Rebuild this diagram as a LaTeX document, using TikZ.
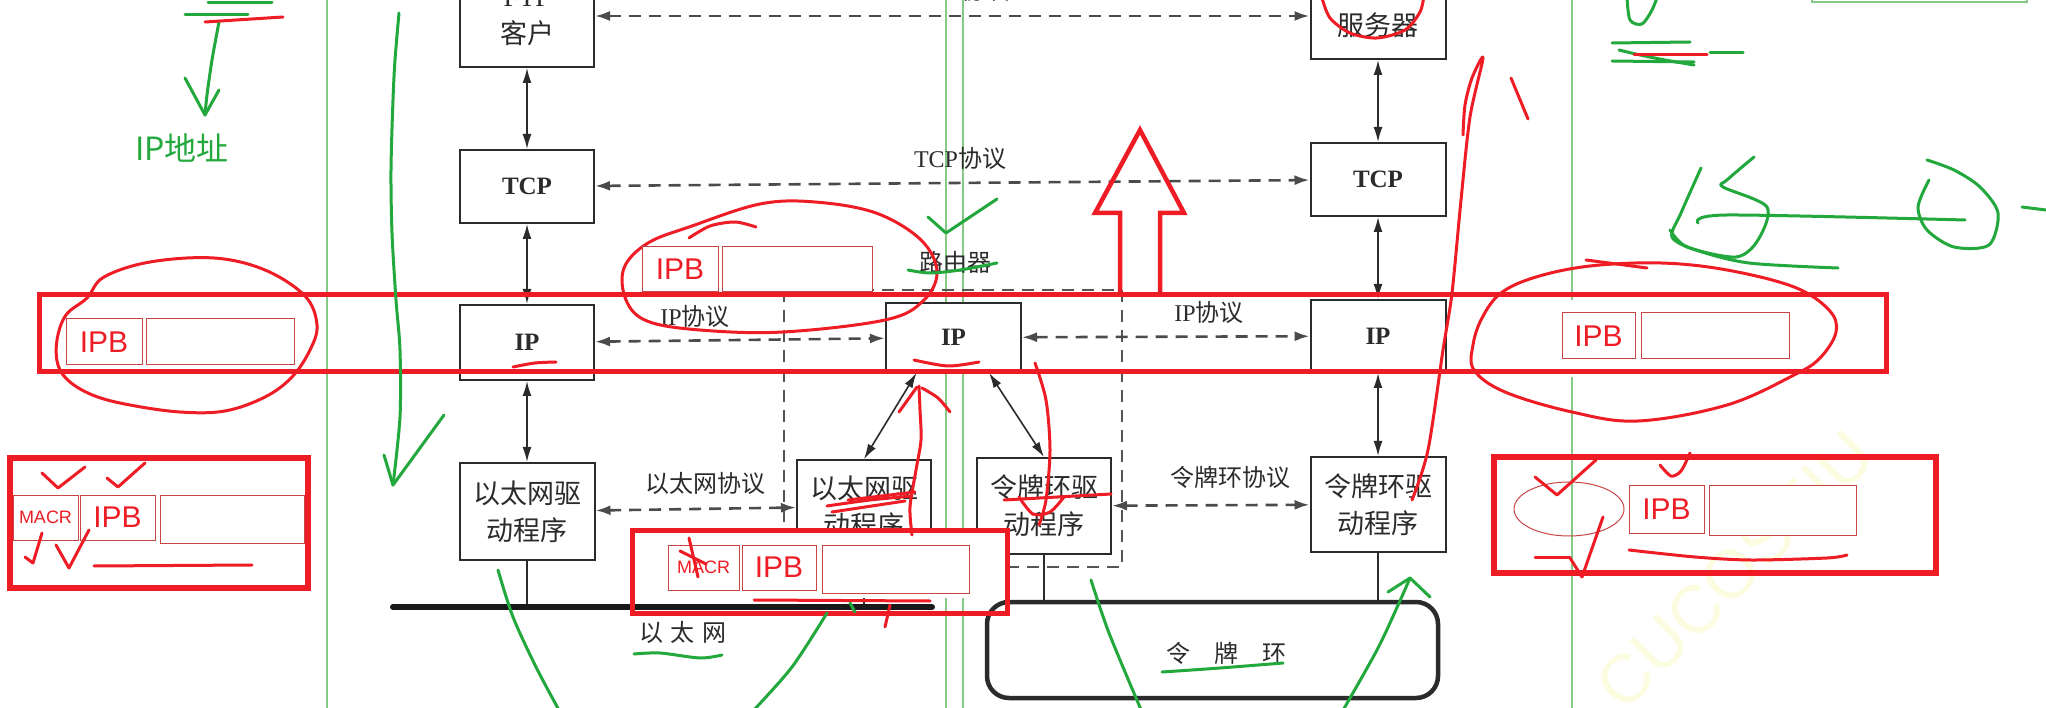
\documentclass[tikz,border=0pt]{standalone}
\usepackage{fontspec}
\setmainfont{Liberation Serif}
\newfontfamily\cjk{Noto Sans CJK SC}
\newfontfamily\asans{Liberation Sans}
\usetikzlibrary{arrows.meta,calc}
\newcommand{\zh}[1]{{\cjk #1}}
\definecolor{annred}{HTML}{EE1C25}
\definecolor{boxred}{HTML}{C94545}
\definecolor{anngreen}{HTML}{22A83C}
\definecolor{guidegreen}{HTML}{86C986}
\definecolor{ink}{HTML}{2B2B2B}
\definecolor{wmark}{HTML}{FCFCE0}
\begin{document}
\begin{tikzpicture}[x=1pt,y=-1pt,
  stack/.style={draw=ink, line width=2pt, fill=white, inner sep=0pt, align=center, text=ink, font=\fontsize{27}{37}\selectfont, minimum width=134pt},
  boldlbl/.style={font=\bfseries\fontsize{25}{28}\selectfont},
  biarrow/.style={{Latex[length=15pt,width=9pt]}-{Latex[length=15pt,width=9pt]}, line width=1.6pt, draw=ink},
  dasharrow/.style={{Latex[length=15pt,width=10pt]}-{Latex[length=15pt,width=10pt]}, line width=2.6pt, draw=ink!85, dash pattern=on 12pt off 8pt},
  plbl/.style={text=ink, font=\fontsize{24}{28}\selectfont, inner sep=0pt},
  wire/.style={draw=ink, line width=1.6pt},
  guide/.style={draw=guidegreen, line width=1.2pt},
  redbox/.style={draw=annred, line width=5pt},
  rhand/.style={draw=annred, line width=3pt, line cap=round, line join=round},
  ghand/.style={draw=anngreen, line width=3pt, line cap=round, line join=round},
  ipbbox/.style={draw=boxred, line width=1pt, fill=white, text=annred, inner sep=0pt, font=\asans\fontsize{30}{30}\selectfont},
  macrbox/.style={draw=boxred, line width=1pt, fill=white, text=annred, inner sep=0pt, font=\asans\fontsize{18}{18}\selectfont},
  emptybox/.style={draw=boxred, line width=1pt, fill=white, inner sep=0pt},
]
\useasboundingbox (0,0) rectangle (2046,708);
\clip (0,0) rectangle (2046,708);
\fill[white] (0,0) rectangle (2046,708);

% watermark
\node[rotate=45, text=wmark, font=\asans\fontsize{68}{68}\selectfont] (wm) at (1735,570) {CUCOSEIU};

% green guide lines
\draw[guide] (327,0) -- (327,708);
\draw[guide] (946,0) -- (946,708);
\draw[guide] (963,0) -- (963,708);
\draw[guide] (1572,0) -- (1572,300);
\draw[guide] (1572,377) -- (1572,708);
\draw[guide] (1812,-5) rectangle (2027,2);

% router dashed frame
\draw[ink!80, line width=2pt, dash pattern=on 12pt off 8pt] (784,290) rectangle (1122,567);

% protocol stacks
\node[stack, minimum height=100pt] (ftpC) at (527,17) {FTP\\\zh{客户}};
\node[stack, minimum height=100pt, minimum width=135pt] (ftpS) at (1378,9) {FTP\\\zh{服务器}};
\node[stack, boldlbl, minimum height=73pt] (tcpL) at (527,186.5) {TCP};
\node[stack, boldlbl, minimum height=73pt, minimum width=135pt] (tcpR) at (1378,179.5) {TCP};
\node[stack, boldlbl, minimum height=75pt] (ipL) at (527,342.5) {IP};
\node[stack, boldlbl, minimum height=69pt, minimum width=135pt] (ipM) at (953.5,337.5) {IP};
\node[stack, boldlbl, minimum height=72pt, minimum width=135pt] (ipR) at (1378,336) {IP};
\node[stack, minimum height=97pt, minimum width=135pt] (ethL) at (527,511.5) {\zh{以太网驱}\\\zh{动程序}};
\node[stack, minimum height=93pt] (ethM) at (864,506.5) {\zh{以太网驱}\\\zh{动程序}};
\node[stack, minimum height=96pt] (tokM) at (1044,506) {\zh{令牌环驱}\\\zh{动程序}};
\node[stack, minimum height=95pt, minimum width=135pt] (tokR) at (1378,504.5) {\zh{令牌环驱}\\\zh{动程序}};

% vertical arrows
\draw[biarrow] (ftpC) -- (tcpL);
\draw[biarrow] (tcpL) -- (ipL);
\draw[biarrow] (ipL) -- (ethL);
\draw[biarrow] (ftpS) -- (tcpR);
\draw[biarrow] (tcpR) -- (ipR);
\draw[biarrow] (ipR) -- (tokR);
\draw[biarrow] ($(ipM.south west)!0.23!(ipM.south east)$) -- (ethM.north);
\draw[biarrow] ($(ipM.south west)!0.76!(ipM.south east)$) -- (tokM.north);

% peer protocol arrows
\coordinate (fy) at (0,16);
\draw[dasharrow] (ftpC.east |- fy) -- (ftpS.west |- fy);
\draw[dasharrow] (tcpL) -- (tcpR);
\draw[dasharrow] (ipL) -- (ipM);
\draw[dasharrow] (ipM) -- (ipR);
\draw[dasharrow] (ethL) -- (ethM);
\draw[dasharrow] (tokM) -- (tokR);

% labels
\node[plbl] (lftp) at (965,-10) {FTP\zh{协议}};
\node[plbl] (ltcp) at (960,158) {TCP\zh{协议}};
\node[plbl] (lipa) at (695,316) {IP\zh{协议}};
\node[plbl] (lipb) at (1209,312) {IP\zh{协议}};
\node[plbl] (leth) at (705,483) {\zh{以太网协议}};
\node[plbl] (ltok) at (1230,477) {\zh{令牌环协议}};
\node[plbl] (lrouter) at (955,262) {\zh{路由器}};

% networks
\coordinate (e1) at (393,607);
\coordinate (e2) at (932,607);
\node[draw=ink, line width=4.5pt, rounded corners=22pt, minimum width=451pt, minimum height=96pt, inner sep=0pt] (ring) at (1212.5,650) {};
\node[plbl] (lring) at (1226,653) {\zh{令\hspace{24pt}牌\hspace{24pt}环}};
\draw[wire] (ethL.south) -- (ethL.south |- e1);
\draw[wire] (ethM.south) -- (ethM.south |- e1);
\draw[wire] (tokM.south) -- (tokM.south |- ring.north);
\draw[wire] (tokR.south) -- (tokR.south |- ring.north);
\node[plbl] (lethnet) at (683,632) {\zh{以\hspace{8pt}太\hspace{8pt}网}};

% ---- red annotations ----
\draw[redbox] (39,295) rectangle (1886,372);
\draw[annred, line width=4.5pt, line join=miter] (1120,295) -- (1120,213) -- (1095,213) -- (1140,130) -- (1184,213) -- (1160,213) -- (1160,295);

% ellipses
\draw[rhand] plot[smooth cycle, tension=0.6] coordinates {(87,298) (66,315) (57,340) (58,365) (70,382) (95,396) (130,405) (180,412) (225,411) (265,397) (292,377) (310,350) (317,325) (305,296) (265,270) (214,258) (150,262) (104,277)};
\draw[rhand] plot[smooth cycle, tension=0.6] coordinates {(700,330) (647,321) (626,300) (624,268) (648,243) (692,226) (760,204) (815,202) (876,213) (921,240) (937,272) (923,301) (885,320) (783,332)};
\draw[rhand] plot[smooth] coordinates {(689,238) (710,226) (735,222) (756,227)};
\draw[rhand] plot[smooth cycle, tension=0.6] coordinates {(1474,370) (1473,345) (1482,318) (1501,293) (1536,277) (1590,266) (1661,263) (1727,270) (1794,287) (1829,310) (1836,332) (1820,358) (1794,375) (1727,405) (1638,421) (1572,412) (1505,392)};
\draw[rhand] (1586,260) -- (1647,268);

% IPB boxes
\node[ipbbox, minimum width=76pt, minimum height=46pt] (ipb1) at (104,342) {IPB};
\node[emptybox, minimum width=148pt, minimum height=46pt] (emp1) at (220,342) {};
\node[ipbbox, minimum width=76pt, minimum height=45pt] (ipb2) at (680,269.5) {IPB};
\node[emptybox, minimum width=150pt, minimum height=45pt] (emp2) at (797,269.5) {};
\node[ipbbox, minimum width=73pt, minimum height=46pt] (ipb3) at (1598.5,336) {IPB};
\node[emptybox, minimum width=148pt, minimum height=46pt] (emp3) at (1715,336) {};

% hand strokes around stacks
\draw[rhand] plot[smooth, tension=0.5] coordinates {(1412,500) (1428,450) (1443,350) (1452,293) (1461,200) (1470,117) (1483,58) (1472,78) (1465,105) (1463,135)};
\draw[rhand] (1511,78) -- (1528,119);
\draw[rhand] plot[smooth] coordinates {(1322,-2) (1330,18) (1350,33) (1377,38) (1405,30) (1420,12) (1424,-5)};
\draw[rhand] plot[smooth] coordinates {(513,367) (535,363) (556,362)};
\draw[rhand] plot[smooth] coordinates {(914,360) (948,366) (979,362)};
\draw[rhand] plot[smooth] coordinates {(827,506) (870,500) (912,496)};
\draw[rhand] (832,512) -- (905,501);
\draw[rhand] (848,500) -- (915,492);
\draw[rhand] plot[smooth] coordinates {(1035,363) (1046,400) (1050,450) (1046,500) (1039,525)};
\draw[rhand] plot[smooth] coordinates {(1019,497) (1033,514) (1050,512) (1064,497)};
\draw[rhand] (1004,500) -- (1111,494);

% lower middle red box
\fill[white] (632,530) rectangle (1007,598);
\draw[line width=6pt, draw=black!90, line cap=round] (e1) -- (e2);
\draw[redbox] (632,530) rectangle (1007,613);
\node[macrbox, minimum width=71pt, minimum height=45pt] (macr2) at (703.5,567.5) {MACR};
\node[ipbbox, minimum width=74pt, minimum height=45pt] (ipb5) at (779,567.5) {IPB};
\node[emptybox, minimum width=147pt, minimum height=48pt] (emp5) at (895.5,569) {};
\draw[rhand] (754,600) -- (930,601);
\draw[rhand] (689,538) -- (698,577);
\draw[rhand] (680,551) -- (706,564);
\draw[rhand] (890,605) -- (885,627);
\draw[rhand] plot[smooth] coordinates {(912,535) (910,507) (916,470) (921,440) (920,410) (919,386)};
\draw[rhand] (899,412) -- (917,387);
\draw[rhand] plot[smooth] coordinates {(922,388) (938,398) (950,412)};

% lower left red box
\draw[redbox, line width=6pt] (10,458) rectangle (308,588);
\node[macrbox, minimum width=65pt, minimum height=45pt] (macr1) at (45.5,517.5) {MACR};
\node[ipbbox, minimum width=75pt, minimum height=45pt] (ipb4) at (117.5,517.5) {IPB};
\node[emptybox, minimum width=144pt, minimum height=48pt] (emp4) at (232,519) {};
\draw[rhand] (42,473) -- (58,488) -- (85,467);
\draw[rhand] (107,478) -- (118,487) -- (145,463);
\draw[rhand] (25,557) -- (33,563) -- (42,533);
\draw[rhand] (56,545) -- (69,568) -- (89,530);
\draw[rhand] (94,566) -- (252,565);

% lower right red box
\draw[redbox, line width=6pt] (1494,457) rectangle (1936,573);
\draw[boxred, line width=1pt] (1569,509) ellipse [x radius=55pt, y radius=27pt];
\node[ipbbox, minimum width=75pt, minimum height=48pt] (ipb6) at (1666.5,509) {IPB};
\node[emptybox, minimum width=147pt, minimum height=50pt] (emp6) at (1782.5,510) {};
\draw[rhand] (1535,477) -- (1557,495) -- (1596,460);
\draw[rhand] plot[smooth] coordinates {(1660,465) (1671,476) (1681,471) (1690,453)};
\draw[rhand] (1570,558) -- (1582,577) -- (1603,517);
\draw[rhand] (1535,557) -- (1570,557);
\draw[rhand] plot[smooth] coordinates {(1629,550) (1695,557) (1751,560) (1827,558) (1847,555)};

% ---- green annotations ----
\node[text=anngreen, font=\cjk\fontsize{32}{32}\selectfont, inner sep=0pt] (ipaddr) at (182,148) {IP地址};
\draw[ghand] plot[smooth] coordinates {(219,22) (212,60) (207,95) (205,115)};
\draw[ghand] (185,78) -- (205,115) -- (219,90);
\draw[ghand] (185,15) -- (248,15);
\draw[ghand] (208,3) -- (272,3);
\draw[rhand] (205,22) -- (283,17);
\draw[ghand] plot[smooth] coordinates {(399,13) (395,60) (393,100) (391,170) (392,233) (396,300) (400,350) (400,417) (393,485)};
\draw[ghand] (384,455) -- (393,485) -- (444,415);
\draw[ghand] (928,217) -- (946,233) -- (997,199);
\draw[ghand] plot[smooth] coordinates {(908,270) (930,273) (960,270) (997,263)};
\draw[ghand] plot[smooth] coordinates {(498,570) (513,617) (536,667) (560,712)};
\draw[ghand] plot[smooth] coordinates {(752,712) (792,667) (827,613)};
\draw[ghand] (850,603) -- (855,612);
\draw[ghand] plot[smooth] coordinates {(634,654) (660,653) (700,658) (722,655)};
\draw[ghand] plot[smooth] coordinates {(1091,580) (1109,633) (1142,712)};
\draw[ghand] plot[smooth] coordinates {(1162,672) (1220,668) (1283,663)};
\draw[ghand] plot[smooth] coordinates {(1342,712) (1377,650) (1399,603) (1410,578)};
\draw[ghand] (1388,592) -- (1410,578) -- (1430,597);
% top right scribbles
\draw[ghand] plot[smooth] coordinates {(1627,-3) (1630,20) (1642,24) (1652,10) (1658,-5)};
\draw[ghand] (1612,43) -- (1690,42);
\draw[ghand] (1612,61) -- (1694,62);
\draw[ghand] plot[smooth] coordinates {(1619,50) (1640,55) (1665,60) (1694,65)};
\draw[ghand] (1710,53) -- (1743,53);
\draw[rhand] (1634,55) -- (1707,55);
\draw[ghand] plot[smooth] coordinates {(1701,168) (1681,213) (1672,237) (1696,250) (1749,263) (1838,268)};
\draw[ghand] plot[smooth] coordinates {(1754,157) (1727,180) (1723,187) (1767,207) (1758,240) (1736,257) (1687,247) (1670,230)};
\draw[ghand] plot[smooth] coordinates {(1698,223) (1727,215) (1965,220)};
\draw[ghand] plot[smooth] coordinates {(1929,180) (1918,207) (1927,230) (1954,247) (1989,245) (1998,213) (1980,187) (1954,170) (1927,160)};
\draw[ghand] (2022,207) -- (2046,210);
\end{tikzpicture}
\end{document}
